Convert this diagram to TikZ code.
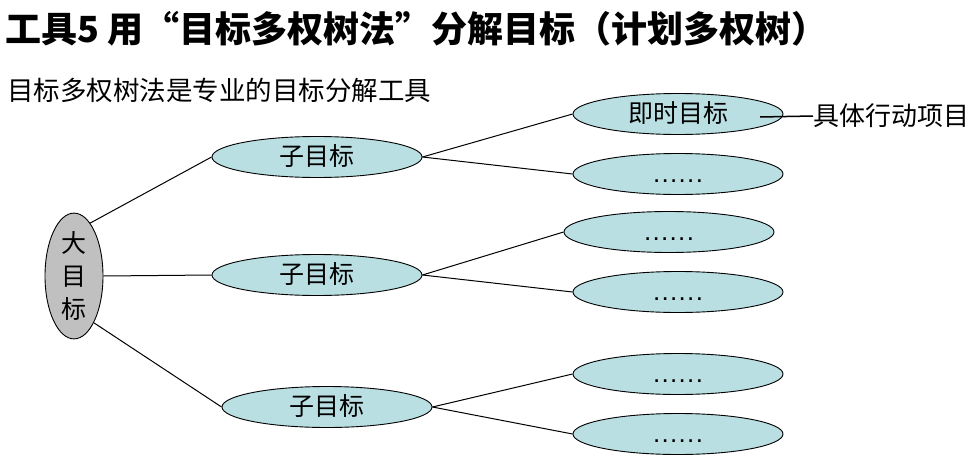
\documentclass[tikz,border=0pt]{standalone}
\usepackage{fontspec}
\usetikzlibrary{shapes.geometric}
\newfontfamily\cjk{Noto Sans CJK SC}
\newfontfamily\latinfont{Liberation Sans}
\definecolor{leafcyan}{RGB}{185,223,227}
\definecolor{biggray}{RGB}{192,192,192}
\newcommand\dotrow{\makebox[50pt][s]{\latinfont\fontsize{26}{28}\selectfont .\hfil.\hfil.\hfil.\hfil.\hfil.}}
\tikzset{
  oval/.style={ellipse, draw=black, line width=0.9pt, fill=leafcyan, inner sep=0pt,
    minimum width=210pt, minimum height=41pt, text height=20pt, text depth=3pt,
    font=\cjk\fontsize{25}{28}\selectfont},
  bigoval/.style={ellipse, draw=black, line width=0.9pt, fill=biggray, inner sep=0pt,
    minimum width=58pt, minimum height=118pt, align=center,
    font=\cjk\fontsize{25}{33}\selectfont},
  link/.style={draw=black, line width=1pt},
  txt/.style={inner sep=0pt, anchor=west},
}
\begin{document}
\begin{tikzpicture}[x=1pt,y=-1pt]
\useasboundingbox (0,0) rectangle (980,474);
% titles
\node[txt, font=\cjk\bfseries\fontsize{36}{40}\selectfont] (title) at (5,29) {工具5 用“目标多权树法”分解目标（计划多权树）};
\node[txt, font=\cjk\fontsize{26.5}{30}\selectfont] (sub) at (7,90) {目标多权树法是专业的目标分解工具};
% nodes
\node[bigoval] (big) at (74,276) {大\\目\\标};
\node[oval] (s1) at (317,157) {子目标};
\node[oval] (s2) at (317,275) {子目标};
\node[oval] (s3) at (327,407) {子目标};
\node[oval] (l1) at (678,114) {即时目标};
\node[oval] (l2) at (678,174) {\dotrow};
\node[oval] (l3) at (669,232) {\dotrow};
\node[oval] (l4) at (678,292) {\dotrow};
\node[oval] (l5) at (678,374) {\dotrow};
\node[oval] (l6) at (678,434) {\dotrow};
\node[txt, font=\cjk\fontsize{26}{28}\selectfont] (act) at (813,116) {具体行动项目};
\coordinate (lstart) at (760,117);
% connectors
\draw[link] (big.73) -- (s1.west);
\draw[link] (big.east) -- (s2.west);
\draw[link] (big.-67) -- (s3.west);
\draw[link] (s1.east) -- (l1.west);
\draw[link] (s1.east) -- (l2.west);
\draw[link] (s2.east) -- (l3.west);
\draw[link] (s2.east) -- (l4.west);
\draw[link] (s3.east) -- (l5.west);
\draw[link] (s3.east) -- (l6.west);
\draw[link, line width=1.5pt] (lstart) -- (act.west);
\end{tikzpicture}
\end{document}
